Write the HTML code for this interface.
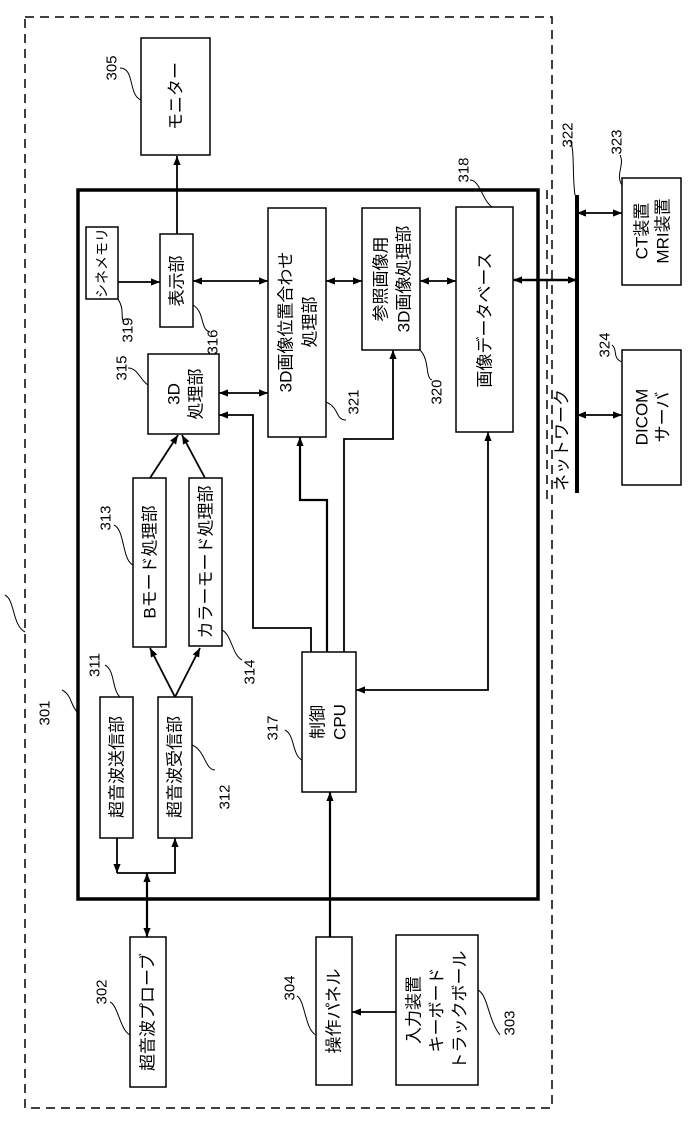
<!DOCTYPE html>
<html><head><meta charset="utf-8"><style>
html,body{margin:0;padding:0;background:#fff;}
svg{display:block;}
text{font-family:"Liberation Sans","Noto Sans CJK JP",sans-serif;fill:#000;}
.t{font-size:17px;}
.n{font-size:15px;}
</style></head><body>
<svg width="688" height="1122" viewBox="0 0 688 1122" xmlns="http://www.w3.org/2000/svg">
<defs>
<marker id="a" viewBox="0 0 10 10" refX="10" refY="5" markerWidth="9" markerHeight="9" orient="auto-start-reverse" markerUnits="userSpaceOnUse"><path d="M0,1 L10,5 L0,9 z" fill="#000"/></marker>
</defs>
<g fill="none" stroke="#000">
<rect x="25" y="17" width="527" height="1091" stroke-width="1.5" stroke-dasharray="9,6"/>
<rect x="78" y="190" width="460" height="709" stroke-width="3.5"/>
<g stroke-width="1.5">
<rect x="141" y="38" width="69" height="117"/>
<rect x="86" y="227" width="32" height="72"/>
<rect x="160" y="234" width="33" height="93"/>
<rect x="148" y="354" width="71" height="80"/>
<rect x="268" y="208" width="58" height="229"/>
<rect x="362" y="208" width="58" height="142"/>
<rect x="456" y="207" width="57" height="225"/>
<rect x="133" y="478" width="33" height="169"/>
<rect x="189" y="478" width="33" height="168"/>
<rect x="100" y="697" width="33" height="141"/>
<rect x="158" y="697" width="34" height="141"/>
<rect x="302" y="652" width="54" height="140"/>
<rect x="130" y="937" width="36" height="150"/>
<rect x="316" y="937" width="36" height="148"/>
<rect x="396" y="935" width="82" height="150"/>
<rect x="622" y="178" width="59" height="107"/>
<rect x="622" y="350" width="59" height="135"/>
</g>
<line x1="577" y1="195" x2="577" y2="493" stroke-width="4"/>
<line x1="547" y1="190" x2="547" y2="500" stroke-width="1.5" stroke-dasharray="9,6"/>
<g stroke-width="1.8">
<line x1="177" y1="234" x2="177" y2="156" marker-end="url(#a)"/>
<line x1="118" y1="282" x2="160" y2="282" marker-end="url(#a)"/>
<line x1="193" y1="281" x2="268" y2="281" marker-start="url(#a)" marker-end="url(#a)"/>
<line x1="326" y1="281" x2="362" y2="281" marker-start="url(#a)" marker-end="url(#a)"/>
<line x1="420" y1="281" x2="456" y2="281" marker-start="url(#a)" marker-end="url(#a)"/>
<line x1="513" y1="280" x2="577" y2="280" stroke-width="2.5" marker-start="url(#a)" marker-end="url(#a)"/>
<line x1="577" y1="213" x2="622" y2="213" marker-start="url(#a)" marker-end="url(#a)"/>
<line x1="577" y1="415" x2="622" y2="415" marker-start="url(#a)" marker-end="url(#a)"/>
<line x1="219" y1="393" x2="268" y2="393" marker-start="url(#a)" marker-end="url(#a)"/>
<line x1="150" y1="478" x2="178" y2="435" marker-end="url(#a)"/>
<line x1="205" y1="478" x2="182" y2="435" marker-end="url(#a)"/>
<line x1="175" y1="697" x2="150" y2="648" marker-end="url(#a)"/>
<line x1="175" y1="697" x2="200" y2="648" marker-end="url(#a)"/>
<polyline points="311,652 311,628 253,628 253,415 219,415" marker-end="url(#a)"/>
<polyline points="327,652 327,500 300,500 300,437" stroke-width="2.2" marker-end="url(#a)"/>
<polyline points="344,652 344,439 393,439 393,350" marker-end="url(#a)"/>
<polyline points="488,432 488,690 356,690" marker-start="url(#a)" marker-end="url(#a)"/>
<line x1="117" y1="838" x2="117" y2="873" marker-end="url(#a)"/>
<polyline points="117,873 175,873 175,838" marker-end="url(#a)"/>
<line x1="147" y1="873" x2="147" y2="937" stroke-width="2.2" marker-start="url(#a)" marker-end="url(#a)"/>
<line x1="330" y1="937" x2="330" y2="792" stroke-width="2.2" marker-end="url(#a)"/>
<line x1="396" y1="1012" x2="352" y2="1012" marker-end="url(#a)"/>
</g>
<g stroke-width="1">
<path d="M120,68 C135,68 128,95 141,100"/>
<path d="M118,299 C125,310 120,318 124,322"/>
<path d="M193,305 C205,312 200,330 210,332"/>
<path d="M128,368 C138,368 140,380 148,385"/>
<path d="M326,402 C340,408 335,420 346,420"/>
<path d="M420,350 C430,360 425,378 432,380"/>
<path d="M470,180 C480,180 482,200 492,207"/>
<path d="M570,140 C575,150 572,175 575,195"/>
<path d="M620,155 C625,165 615,175 622,185"/>
<path d="M612,345 C618,350 612,358 622,362"/>
<path d="M114,525 C125,530 122,560 133,565"/>
<path d="M222,630 C232,635 232,655 242,660"/>
<path d="M105,665 C115,670 112,690 120,697"/>
<path d="M192,745 C205,750 205,770 215,770"/>
<path d="M285,730 C295,735 292,755 302,760"/>
<path d="M62,690 C72,695 70,705 78,713"/>
<path d="M5,595 C15,600 12,625 25,632"/>
<path d="M110,1002 C118,1005 120,1030 130,1035"/>
<path d="M297,996 C305,1000 305,1030 316,1035"/>
<path d="M478,990 C488,995 488,1020 500,1035"/>
</g>
</g>
<g class="t" text-anchor="middle" dominant-baseline="central">
<text transform="translate(176,96) rotate(-90)">モニター</text>
<text transform="translate(102,263) rotate(-90)" style="font-size:14px">シネメモリ</text>
<text transform="translate(177,281) rotate(-90)">表示部</text>
<text transform="translate(174,394) rotate(-90)">3D</text>
<text transform="translate(196,394) rotate(-90)">処理部</text>
<text transform="translate(286,322) rotate(-90)">3D画像位置合わせ</text>
<text transform="translate(310,322) rotate(-90)">処理部</text>
<text transform="translate(381,279) rotate(-90)">参照画像用</text>
<text transform="translate(404,279) rotate(-90)">3D画像処理部</text>
<text transform="translate(485,320) rotate(-90)">画像データベース</text>
<text transform="translate(562,440) rotate(-90)">ネットワーク</text>
<text transform="translate(642,231) rotate(-90)">CT装置</text>
<text transform="translate(663,231) rotate(-90)">MRI装置</text>
<text transform="translate(642,417) rotate(-90)">DICOM</text>
<text transform="translate(663,417) rotate(-90)">サーバ</text>
<text transform="translate(150,562) rotate(-90)">Bモード処理部</text>
<text transform="translate(206,562) rotate(-90)">カラーモード処理部</text>
<text transform="translate(117,767) rotate(-90)">超音波送信部</text>
<text transform="translate(175,767) rotate(-90)">超音波受信部</text>
<text transform="translate(318,722) rotate(-90)">制御</text>
<text transform="translate(340,722) rotate(-90)">CPU</text>
<text transform="translate(148,1012) rotate(-90)">超音波プローブ</text>
<text transform="translate(334,1011) rotate(-90)">操作パネル</text>
<text transform="translate(414,1010) rotate(-90)">入力装置</text>
<text transform="translate(437,1010) rotate(-90)">キーボード</text>
<text transform="translate(460,1010) rotate(-90)">トラックボール</text>
</g>
<g class="n" text-anchor="middle" dominant-baseline="central">
<text transform="translate(112,68) rotate(-90)">305</text>
<text transform="translate(128,330) rotate(-90)">319</text>
<text transform="translate(213,342) rotate(-90)">316</text>
<text transform="translate(122,368) rotate(-90)">315</text>
<text transform="translate(354,402) rotate(-90)">321</text>
<text transform="translate(437,392) rotate(-90)">320</text>
<text transform="translate(464,170) rotate(-90)">318</text>
<text transform="translate(568,135) rotate(-90)">322</text>
<text transform="translate(617,142) rotate(-90)">323</text>
<text transform="translate(605,345) rotate(-90)">324</text>
<text transform="translate(106,518) rotate(-90)">313</text>
<text transform="translate(250,672) rotate(-90)">314</text>
<text transform="translate(95,665) rotate(-90)">311</text>
<text transform="translate(225,797) rotate(-90)">312</text>
<text transform="translate(273,728) rotate(-90)">317</text>
<text transform="translate(45,713) rotate(-90)">301</text>
<text transform="translate(102,992) rotate(-90)">302</text>
<text transform="translate(290,988) rotate(-90)">304</text>
<text transform="translate(510,1023) rotate(-90)">303</text>
</g>
</svg>
</body></html>
